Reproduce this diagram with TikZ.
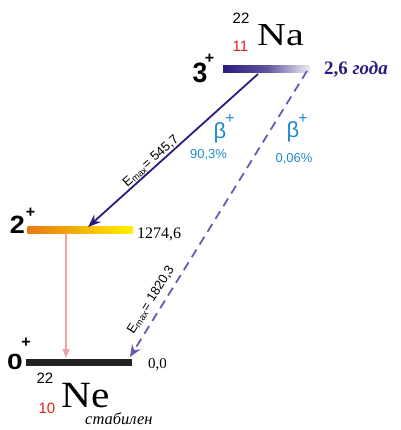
\documentclass[tikz,border=0pt]{standalone}
\usepackage{fontspec}
\setmainfont{Liberation Serif}
\setsansfont{Liberation Sans}
\usetikzlibrary{arrows.meta}
\definecolor{navy}{HTML}{2B1A7F}
\definecolor{dashpurple}{HTML}{6A5AB0}
\definecolor{betablue}{HTML}{1F8AD0}
\definecolor{nucred}{HTML}{E0201A}
\definecolor{pinkline}{HTML}{F2A0A8}
\definecolor{orangeL}{HTML}{E87810}
\definecolor{yellowR}{HTML}{FFF000}
\definecolor{groundbar}{HTML}{222222}
\newcommand{\fs}[1]{\fontsize{#1}{#1}\selectfont}
\tikzset{
  lvlbar/.style={draw=none, minimum height=7pt, inner sep=0pt, outer sep=0pt},
  spin/.style={inner sep=0pt, anchor=base},
  plus/.style={font=\sffamily\bfseries\fs{16}, inner sep=0pt},
  mass/.style={font=\sffamily\fs{15}, inner sep=0pt, anchor=base},
  znum/.style={font=\sffamily\fs{15}, text=nucred, inner sep=0pt, anchor=base},
  elem/.style={inner sep=0pt, anchor=base west},
  energy/.style={font=\fs{16}, inner sep=0pt, anchor=base west},
  beta/.style={font=\sffamily\fs{22}, text=betablue, inner sep=0pt},
  betaplus/.style={font=\sffamily\fs{16}, text=betablue, inner sep=0pt},
  pct/.style={font=\sffamily\fs{13}, text=betablue, inner sep=0pt},
  emax/.style={font=\sffamily\fs{13}, inner sep=0pt}
}
\begin{document}
\begin{tikzpicture}[x=1pt,y=-1pt]
\useasboundingbox (0,0) rectangle (400,430);
% levels
\node[lvlbar, minimum width=87pt, left color=navy, right color=navy!8, middle color=navy!75] (na) at (266.5,69.5) {};
\node[lvlbar, minimum width=105pt, left color=orangeL, right color=yellowR] (ex) at (80,229.5) {};
\node[lvlbar, minimum width=106pt, fill=groundbar] (gs) at (79,362.5) {};
% spins
\node[spin, font=\sffamily\bfseries\fs{28}] (s3) at (200,83) {\scalebox{0.95}[1]{3}};
\node[plus] (p3) at (209.5,59) {+};
\node[spin, font=\sffamily\bfseries\fs{25}] (s2) at (17.5,233) {\scalebox{1.08}[1]{2}};
\node[plus] (p2) at (30.5,213) {+};
\node[spin, font=\sffamily\bfseries\fs{22}] (s0) at (15,369.5) {\scalebox{1.28}[1]{0}};
\node[plus] (p0) at (26,343) {+};
% Na label
\node[mass] (naA) at (241,24) {22};
\node[znum] (naZ) at (240.5,52) {11};
\node[elem, font=\fs{32}] (naE) at (257,46) {\scalebox{1.25}[1]{Na}};
\node[font=\fs{19}, text=navy, inner sep=0pt, anchor=base west] (half) at (324,75) {\textbf{2,6} \textit{\textbf{года}}};
% Ne label
\node[mass] (neA) at (45,383) {22};
\node[znum] (neZ) at (47,413) {10};
\node[elem, font=\fs{37}] (neE) at (61,407) {\scalebox{1.12}[1]{Ne}};
\node[font=\itshape\fs{16.5}, inner sep=0pt, anchor=base west] (stab) at (85,424) {стабилен};
% energies
\node[energy] (e1) at (137,238) {1274,6};
\node[font=\fs{15}, inner sep=0pt, anchor=base west] (e0) at (148,368) {0,0};
% connectors
\coordinate (aS) at (258,74);
\coordinate (aE) at (88,227);
\coordinate (bS) at (307,71);
\coordinate (bE) at (130,357);
\coordinate (gS) at (66,233);
\coordinate (gE) at (66,358);
\draw[navy, line width=1.8pt, -{Stealth[length=13pt,width=10pt]}] (aS) -- (aE);
\draw[dashpurple, line width=1.8pt, dash pattern=on 9pt off 6pt, -{Stealth[length=12pt,width=10pt]}] (bS) -- (bE);
\draw[pinkline, line width=1.2pt, -{Triangle[length=9pt,width=7pt]}] (gS) -- (gE);
% beta labels
\node[beta] (b1) at (220,133) {β};
\node[betaplus] (b1p) at (230,119) {+};
\node[pct] (p1) at (208.5,155) {90,3\%};
\node[beta] (b2) at (293,132) {β};
\node[betaplus] (b2p) at (303,119) {+};
\node[pct] (p2b) at (294,158.5) {0,06\%};
% Emax labels
\node[emax, rotate=42] (m1) at (151,161) {E\textsubscript{max}= 545,7};
\node[emax, rotate=58] (m2) at (151,300) {E\textsubscript{max}= 1820,3};
\end{tikzpicture}
\end{document}
